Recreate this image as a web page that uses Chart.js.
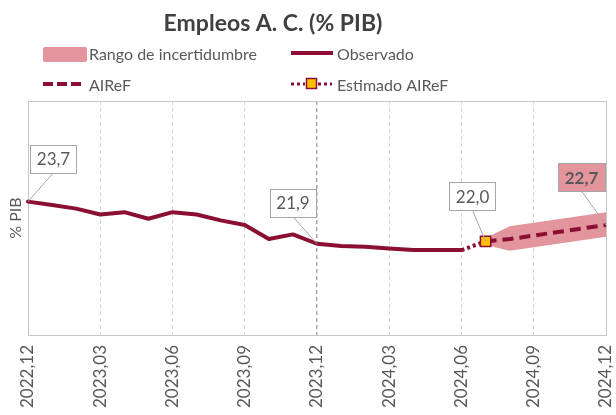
<!DOCTYPE html>
<html>
<head>
<meta charset="utf-8">
<script src="https://cdn.jsdelivr.net/npm/chart.js@4"></script>
<style>
  html, body { margin: 0; padding: 0; background: #fff; }
  #wrap { width: 616px; height: 415px; position: relative; }
</style>
</head>
<body>
<div id="wrap"><canvas id="c" width="616" height="415"></canvas></div>
<script>
// ---- Data ----
const labels = ['2022,12','2023,01','2023,02','2023,03','2023,04','2023,05','2023,06','2023,07','2023,08','2023,09','2023,10','2023,11','2023,12',
                '2024,01','2024,02','2024,03','2024,04','2024,05','2024,06','2024,07','2024,08','2024,09','2024,10','2024,11','2024,12'];
const observado = [23.7,23.56,23.4,23.15,23.25,22.97,23.25,23.15,22.9,22.7,22.1,22.3,21.9,
                   21.8,21.77,21.7,21.63,21.63,21.63,null,null,null,null,null,null];
const estimado  = [null,null,null,null,null,null,null,null,null,null,null,null,null,
                   null,null,null,null,null,21.63,22.0,null,null,null,null,null];
const airef     = [null,null,null,null,null,null,null,null,null,null,null,null,null,
                   null,null,null,null,null,null,22.0,22.1,22.25,22.4,22.55,22.7];
const bandaBaja = [null,null,null,null,null,null,null,null,null,null,null,null,null,
                   null,null,null,null,null,null,21.85,21.6,21.75,21.9,22.05,22.2];
const bandaAlta = [null,null,null,null,null,null,null,null,null,null,null,null,null,
                   null,null,null,null,null,null,22.15,22.65,22.8,22.95,23.1,23.25];
const title = 'Empleos A. C. (% PIB)';
const yTitle = '% PIB';
const legendNames = ['Rango de incertidumbre','Observado','AIReF','Estimado AIReF'];

// ---- Styles ----
const FONT = 'Lato, "Open Sans", "DejaVu Sans", sans-serif';
const BURG = '#8A0F33';
const PINK = '#E3959E';
const GOLD = '#FFC000';
const TXT = '#595959';

// labelled points: dataset index, point index, box offset, bold/bg
const boxLabels = [
  {ds:0, idx:0,  dx:25.5, dy:-43, bg:'#ffffff', bold:false},
  {ds:0, idx:12, dx:-24,  dy:-41, bg:'#ffffff', bold:false},
  {ds:1, idx:19, dx:-13,  dy:-45, bg:'#ffffff', bold:false},
  {ds:2, idx:24, dx:-24.5,dy:-48, bg:PINK,      bold:true}
];

const decorPlugin = {
  id: 'decor',
  beforeDatasetsDraw(chart) {
    const {ctx, chartArea:a} = chart;
    ctx.save();
    ctx.strokeStyle = '#c6c6c6';
    ctx.lineWidth = 1;
    ctx.strokeRect(Math.round(a.left)+0.5, Math.round(a.top)+0.5, Math.round(a.right-a.left), Math.round(a.bottom-a.top));
    ctx.restore();
  },
  afterDatasetsDraw(chart) {
    const ctx = chart.ctx;
    ctx.save();
    boxLabels.forEach(l => {
      const pt = chart.getDatasetMeta(l.ds).data[l.idx];
      const v = chart.data.datasets[l.ds].data[l.idx];
      const text = v.toFixed(1).replace('.', ',');
      ctx.font = (l.bold ? 'bold ' : '') + '17px ' + FONT;
      const w = ctx.measureText(text).width + 13;
      const h = 28;
      const cx = pt.x + l.dx, cy = pt.y + l.dy;
      ctx.strokeStyle = '#a6a6a6';
      ctx.lineWidth = 1;
      ctx.setLineDash([]);
      ctx.beginPath();
      ctx.moveTo(cx, cy + h/2);
      ctx.lineTo(pt.x, pt.y);
      ctx.stroke();
      ctx.fillStyle = l.bg;
      const x0 = Math.round(cx - w/2) + 0.5, y0 = Math.round(cy - h/2) + 0.5;
      ctx.fillRect(x0, y0, Math.round(w), h);
      ctx.strokeStyle = '#a6a6a6';
      ctx.strokeRect(x0, y0, Math.round(w), h);
      ctx.fillStyle = TXT;
      ctx.textAlign = 'center';
      ctx.textBaseline = 'middle';
      ctx.fillText(text, cx, cy + 1);
    });
    ctx.restore();
  },
  afterDraw(chart) {
    const ctx = chart.ctx;
    ctx.save();
    // title
    ctx.fillStyle = '#404040';
    ctx.font = 'bold 23px ' + FONT;
    ctx.textAlign = 'center';
    ctx.textBaseline = 'alphabetic';
    ctx.fillText(title, 273, 31);
    // legend
    ctx.font = '16px ' + FONT;
    ctx.textAlign = 'left';
    // row 1
    ctx.fillStyle = PINK;
    ctx.beginPath();
    if (ctx.roundRect) ctx.roundRect(43, 47, 44, 15, 2); else ctx.rect(43, 47, 44, 15);
    ctx.fill();
    ctx.fillStyle = TXT;
    ctx.fillText(legendNames[0], 89, 60);
    ctx.strokeStyle = BURG;
    ctx.lineWidth = 4;
    ctx.beginPath(); ctx.moveTo(291, 53); ctx.lineTo(333, 53); ctx.stroke();
    ctx.fillText(legendNames[1], 337, 60);
    // row 2
    ctx.setLineDash([10, 4]);
    ctx.beginPath(); ctx.moveTo(43, 84); ctx.lineTo(83, 84); ctx.stroke();
    ctx.fillText(legendNames[2], 89, 91);
    ctx.setLineDash([3, 3]);
    ctx.lineWidth = 3;
    ctx.beginPath(); ctx.moveTo(291, 84); ctx.lineTo(305, 84); ctx.stroke();
    ctx.beginPath(); ctx.moveTo(318, 84); ctx.lineTo(332, 84); ctx.stroke();
    ctx.setLineDash([]);
    ctx.fillStyle = GOLD;
    ctx.fillRect(306.5, 78.5, 10, 10);
    ctx.strokeStyle = BURG;
    ctx.lineWidth = 1.5;
    ctx.strokeRect(306.5, 78.5, 10, 10);
    ctx.fillStyle = TXT;
    ctx.fillText(legendNames[3], 337, 91);
    ctx.restore();
  }
};

new Chart(document.getElementById('c'), {
  type: 'line',
  data: {
    labels: labels,
    datasets: [
      { label: legendNames[1], data: observado, borderColor: BURG, borderWidth: 4, pointRadius: 0,
        borderJoinStyle: 'round', borderCapStyle: 'round', fill: false, tension: 0 },
      { label: legendNames[3], data: estimado, borderColor: BURG, borderWidth: 4, borderDash: [3, 3],
        pointRadius: estimado.map((v, i) => i === 19 ? 7.3 : 0), pointStyle: 'rect',
        pointBackgroundColor: GOLD, pointBorderColor: BURG, pointBorderWidth: 1.5, fill: false, tension: 0 },
      { label: legendNames[2], data: airef, borderColor: BURG, borderWidth: 4, borderDash: [11, 6],
        pointRadius: 0, fill: false, tension: 0 },
      { label: 'low', data: bandaBaja, borderWidth: 0, borderColor: 'transparent', pointRadius: 0, fill: false, tension: 0 },
      { label: legendNames[0], data: bandaAlta, borderWidth: 0, borderColor: 'transparent', pointRadius: 0,
        fill: '-1', backgroundColor: PINK, tension: 0 }
    ]
  },
  options: {
    responsive: false,
    animation: false,
    layout: { padding: { top: 101, right: 10, left: 0, bottom: 0 } },
    plugins: { legend: { display: false }, title: { display: false }, tooltip: { enabled: false } },
    scales: {
      x: {
        offset: false,
        grid: {
          drawTicks: false,
          color: c => (c.index % 3 === 0) ? (c.index === 12 ? '#a8a8a8' : '#d6d6d6') : 'transparent',
          lineWidth: c => c.index === 12 ? 1.5 : 1
        },
        border: { display: false, dash: [4, 3] },
        ticks: {
          autoSkip: false, minRotation: 90, maxRotation: 90, padding: 10,
          color: TXT, font: { family: FONT, size: 17 },
          callback: function(v, i) { return i % 3 === 0 ? this.getLabelForValue(v) : ''; }
        },
        afterFit: s => { s.height = 80; s.paddingLeft = 0; s.paddingRight = 0; }
      },
      y: {
        min: 18, max: 28,
        grid: { display: false },
        border: { display: false },
        ticks: { display: false },
        title: { display: true, text: yTitle, color: TXT, font: { family: FONT, size: 16 }, padding: { top: 6, bottom: 0 } },
        afterFit: s => { s.width = 28; s.paddingTop = 0; s.paddingBottom = 0; }
      }
    }
  },
  plugins: [decorPlugin]
});
</script>
</body>
</html>
